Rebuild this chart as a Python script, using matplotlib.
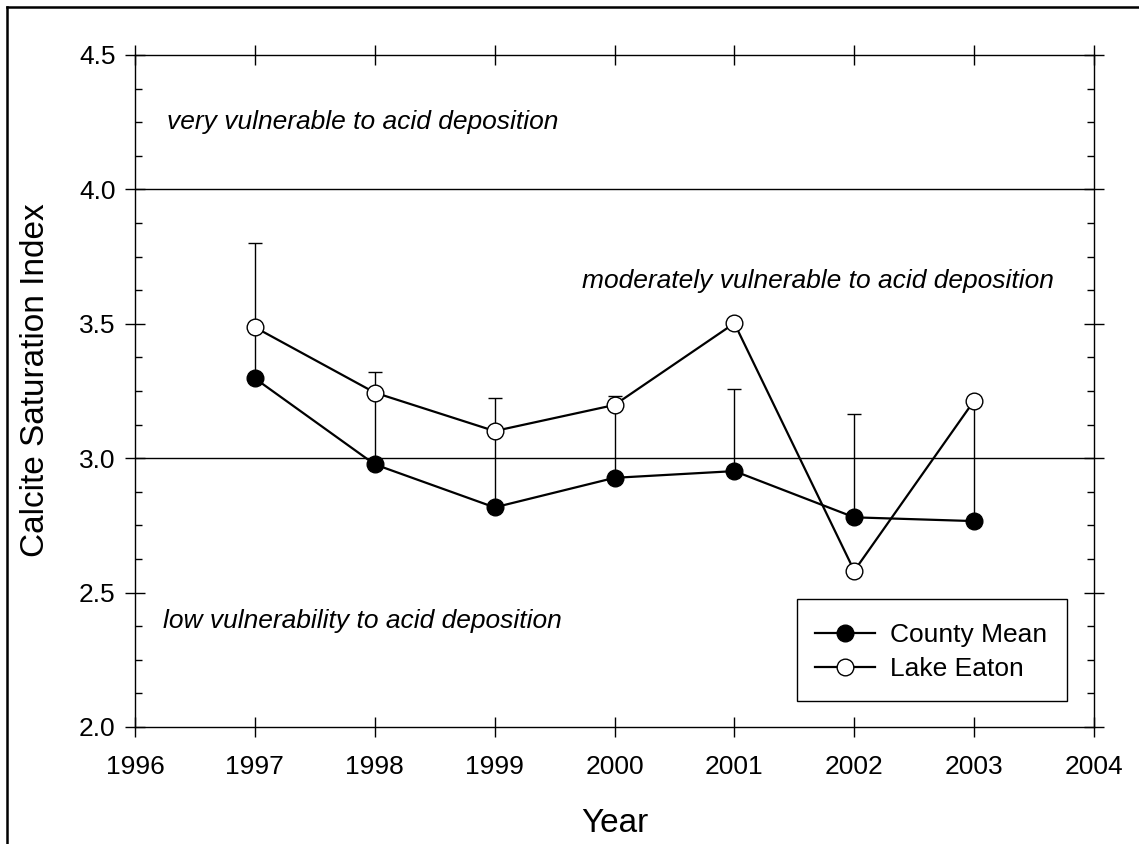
import matplotlib
matplotlib.use('Agg')
import matplotlib.pyplot as plt
from matplotlib.lines import Line2D
from matplotlib.patches import Rectangle
from matplotlib.ticker import MultipleLocator, FormatStrFormatter

# ---- data ----
years = [1997, 1998, 1999, 2000, 2001, 2002, 2003]
county_mean = [3.297, 2.977, 2.817, 2.927, 2.952, 2.780, 2.766]
county_upper_err = [0.505, 0.345, 0.408, 0.306, 0.304, 0.384, 0.434]
lake_eaton = [3.487, 3.244, 3.101, 3.198, 3.502, 2.581, 3.214]
thresholds = [3.0, 4.0]
zone_labels = ["very vulnerable to acid deposition",
               "moderately vulnerable to acid deposition",
               "low vulnerability to acid deposition"]
series_names = ["County Mean", "Lake Eaton"]
x_label = "Year"
y_label = "Calcite Saturation Index"

plt.rcParams['font.family'] = ['Liberation Sans', 'DejaVu Sans']

W, H = 1139, 844
AX_L, AX_R, AX_T, AX_B = 135, 1094, 55, 727

fig = plt.figure(figsize=(W/100, H/100), dpi=100)
ax = fig.add_axes([AX_L/W, 1 - AX_B/H, (AX_R-AX_L)/W, (AX_B-AX_T)/H])

def px2ax(x, y):
    return ((x - AX_L) / (AX_R - AX_L), (AX_B - y) / (AX_B - AX_T))

for t in thresholds:
    ax.axhline(t, color='black', lw=1.0, zorder=1)

ax.errorbar(years, county_mean, yerr=[[0]*len(years), county_upper_err],
            fmt='none', ecolor='black', elinewidth=1.0, capsize=4.7,
            capthick=1.0, zorder=2)
l1, = ax.plot(years, county_mean, color='black', lw=1.6, marker='o',
              markersize=12, markerfacecolor='black', markeredgecolor='black',
              markeredgewidth=1.0, zorder=3, label=series_names[0])
l2, = ax.plot(years, lake_eaton, color='black', lw=1.6, marker='o',
              markersize=12, markerfacecolor='white', markeredgecolor='black',
              markeredgewidth=1.0, zorder=4, label=series_names[1])

ax.set_xlim(1996, 2004)
ax.set_ylim(2.0, 4.5)
ax.xaxis.set_major_locator(MultipleLocator(1))
ax.yaxis.set_major_locator(MultipleLocator(0.5))
ax.yaxis.set_minor_locator(MultipleLocator(0.125))
ax.yaxis.set_major_formatter(FormatStrFormatter('%.1f'))

ax.tick_params(which='major', direction='inout', length=14, width=1.0,
               top=True, right=True, labelsize=19)
ax.tick_params(axis='y', which='major', pad=7)
ax.tick_params(axis='x', which='major', pad=13)
ax.tick_params(which='minor', axis='y', direction='in', length=5, width=1.0,
               left=True, right=True)
for s in ax.spines.values():
    s.set_linewidth(1.0)

ax.set_xlabel(x_label, fontsize=24, labelpad=21)
ax.set_ylabel(y_label, fontsize=24)
ax.yaxis.set_label_coords(*px2ax(51, 380))

ax.text(1996.27, 4.25, zone_labels[0], fontsize=19, style='italic', va='center', ha='left')
ax.text(1999.73, 3.66, zone_labels[1], fontsize=19, style='italic', va='center', ha='left')
ax.text(1996.23, 2.394, zone_labels[2], fontsize=19, style='italic', va='center', ha='left')

# legend box
bx0, by0 = px2ax(797, 701)
bx1, by1 = px2ax(1067, 599)
ax.add_patch(Rectangle((bx0, by0), bx1 - bx0, by1 - by0, transform=ax.transAxes,
                       facecolor='white', edgecolor='black', lw=1.0, zorder=5))
cx, cy = px2ax(931, 652)
leg = ax.legend(handles=[l1, l2], loc='center', bbox_to_anchor=(cx, cy),
                fontsize=19, frameon=False, handlelength=2.3, borderpad=0.0,
                labelspacing=0.38, handletextpad=0.57, borderaxespad=0)
leg.set_zorder(6)

# outer frame (left and top visible)
fig.add_artist(Line2D([7/W, 7/W], [0, 1 - 7/H], transform=fig.transFigure,
                      color='black', lw=1.8))
fig.add_artist(Line2D([7/W, 1], [1 - 7/H, 1 - 7/H], transform=fig.transFigure,
                      color='black', lw=1.8))

fig.savefig('out.png', dpi=100)
